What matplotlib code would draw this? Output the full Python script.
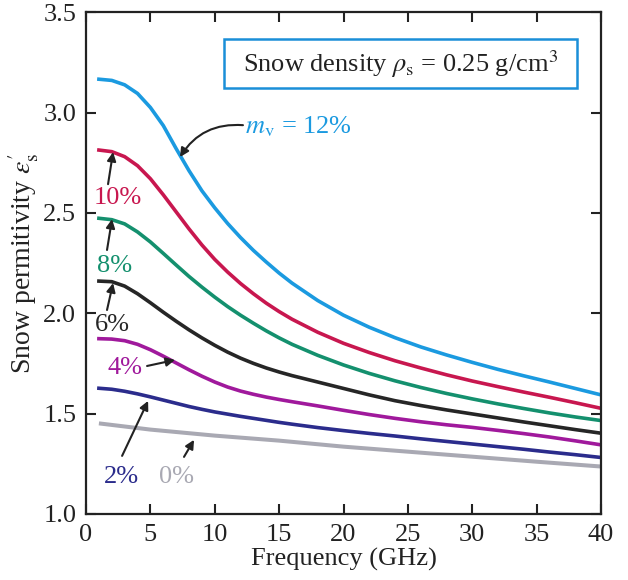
import matplotlib
matplotlib.use('Agg')
import matplotlib.pyplot as plt
import matplotlib.patches as mpatches

plt.rcParams['font.family'] = ['Liberation Serif', 'DejaVu Serif']
plt.rcParams['mathtext.fontset'] = 'stix'

# -- data (GHz, permittivity) --
freq = [1, 2, 3, 4, 5, 6, 7, 8, 9, 10, 11, 12, 13, 14, 15, 16,
        18, 20, 22, 24, 26, 28, 30, 32, 34, 36, 38, 40]

eps_12 = [3.166, 3.160, 3.138, 3.095, 3.025, 2.935, 2.820, 2.710, 2.610, 2.525, 2.447, 2.377,
          2.313, 2.255, 2.200, 2.150, 2.063, 1.990, 1.930, 1.878, 1.832, 1.792, 1.755, 1.720,
          1.688, 1.657, 1.625, 1.593]
eps_10 = [2.813, 2.805, 2.780, 2.735, 2.670, 2.590, 2.505, 2.420, 2.340, 2.268, 2.205, 2.148,
          2.097, 2.050, 2.008, 1.970, 1.905, 1.850, 1.804, 1.763, 1.727, 1.693, 1.662, 1.634,
          1.607, 1.581, 1.554, 1.526]
eps_8 = [2.473, 2.466, 2.445, 2.405, 2.355, 2.298, 2.240, 2.183, 2.130, 2.080, 2.033, 1.990,
         1.950, 1.912, 1.877, 1.845, 1.790, 1.742, 1.700, 1.663, 1.630, 1.600, 1.573, 1.548,
         1.525, 1.503, 1.483, 1.465]
eps_6 = [2.160, 2.157, 2.135, 2.097, 2.052, 2.005, 1.960, 1.917, 1.877, 1.840, 1.806, 1.776,
         1.750, 1.727, 1.707, 1.689, 1.657, 1.625, 1.593, 1.564, 1.540, 1.518, 1.498, 1.478,
         1.458, 1.439, 1.420, 1.402]
eps_4 = [1.873, 1.871, 1.863, 1.845, 1.818, 1.786, 1.752, 1.718, 1.686, 1.657, 1.632, 1.612,
         1.596, 1.582, 1.570, 1.559, 1.538, 1.516, 1.495, 1.476, 1.459, 1.444, 1.431, 1.416,
         1.400, 1.383, 1.364, 1.344]
eps_2 = [1.626, 1.621, 1.611, 1.598, 1.583, 1.567, 1.551, 1.535, 1.521, 1.508, 1.497, 1.486,
         1.476, 1.466, 1.456, 1.447, 1.430, 1.415, 1.401, 1.388, 1.374, 1.361, 1.348, 1.335,
         1.322, 1.308, 1.295, 1.281]
freq_dry = [1, 5, 10, 15, 20, 25, 30, 35, 40]
eps_0 = [1.451, 1.420, 1.390, 1.365, 1.335, 1.310, 1.285, 1.260, 1.236]

c12, c10, c8, c6 = '#1b9ae0', '#c8174f', '#14906e', '#262626'
c4, c2, c0 = '#a0199c', '#2b2c8c', '#a9a9b3'

fig = plt.figure(figsize=(6.28, 5.8), dpi=100)
ax = fig.add_axes([0.137, 0.114, 0.820, 0.865])

lw = 2.6
ax.plot(freq_dry, eps_0, color=c0, lw=lw + 0.3, solid_capstyle='butt')
ax.plot(freq, eps_2, color=c2, lw=lw)
ax.plot(freq, eps_4, color=c4, lw=lw)
ax.plot(freq, eps_6, color=c6, lw=lw)
ax.plot(freq, eps_8, color=c8, lw=lw)
ax.plot(freq, eps_10, color=c10, lw=lw)
ax.plot(freq, eps_12, color=c12, lw=lw)

ax.set_xlim(0, 40)
ax.set_ylim(1.0, 3.5)
ax.set_xticks(range(0, 41, 5))
ax.set_yticks([1.0, 1.5, 2.0, 2.5, 3.0, 3.5])
ax.set_yticklabels(['1.0', '1.5', '2.0', '2.5', '3.0', '3.5'])
ax.tick_params(direction='in', length=7, width=1.5, labelsize=19,
               top=True, right=True, pad=7, colors='#222222')
for sp in ax.spines.values():
    sp.set_linewidth(1.6)
    sp.set_color('#222222')

ax.set_xlabel('Frequency (GHz)', fontsize=19, color='#222222', labelpad=2)
ax.set_ylabel(r"Snow permitivity $\varepsilon_{\rm s}'$", fontsize=20,
              color='#222222', labelpad=2)

# legend-like box
box = mpatches.Rectangle((0.268, 0.849), 0.685, 0.097, transform=ax.transAxes,
                         fill=False, edgecolor='#1a8fd8', lw=1.8)
ax.add_patch(box)
ax.text(0.61, 0.897, r'Snow density $\rho_{\rm s}$ = 0.25 g/cm$^3$', transform=ax.transAxes,
        ha='center', va='center', fontsize=19, color='#222222')

# curve labels with arrows
arr = dict(arrowstyle='-|>', color='#222222', lw=1.5, mutation_scale=13,
           shrinkA=0, shrinkB=0)

ax.text(12.35, 2.927, r'$m_{\rm v}$ = 12%', fontsize=19, color=c12, ha='left', va='center')
ax.annotate('', xy=(7.30, 2.778), xytext=(12.19, 2.937),
            arrowprops=dict(arr, connectionstyle='arc3,rad=0.3'))

labels = [('10%', 2.49, 2.574, c10, (1.71, 2.643), (2.10, 2.803)),
          ('8%', 2.25, 2.235, c8, (1.63, 2.315), (2.02, 2.469)),
          ('6%', 2.02, 1.941, c6, (1.63, 2.016), (2.10, 2.150)),
          ('4%', 3.03, 1.727, c4, (4.74, 1.737), (6.91, 1.767)),
          ('2%', 2.72, 1.184, c2, (2.80, 1.289), (4.82, 1.563)),
          ('0%', 6.99, 1.184, c0, (7.61, 1.284), (8.39, 1.369))]
for txt, tx, ty, col, tail, tip in labels:
    ax.text(tx, ty, txt, fontsize=19, color=col, ha='center', va='center')
    ax.annotate('', xy=tip, xytext=tail, arrowprops=arr)

fig.savefig('out.png', dpi=100)
